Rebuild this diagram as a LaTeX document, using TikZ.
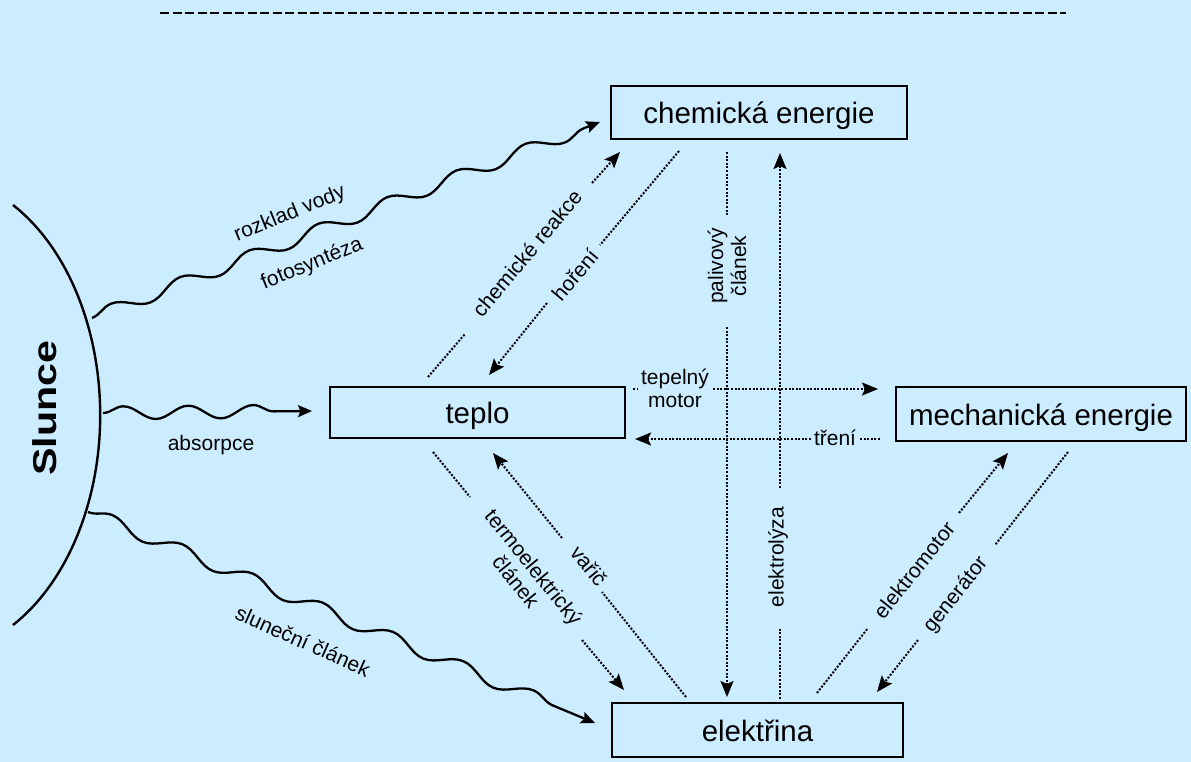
\documentclass[tikz,border=0pt]{standalone}
\usepackage{fontspec}
\setmainfont{Liberation Sans}
\usetikzlibrary{arrows.meta,decorations.pathmorphing}
\definecolor{bg}{RGB}{204,236,255}
\begin{document}
\begin{tikzpicture}[x=1pt,y=-1pt,
  box/.style={draw, line width=2.8pt, inner sep=0pt, text height=22pt, text depth=0pt,
              font=\fontsize{29.5}{34}\selectfont},
  lbl/.style={inner sep=0pt, align=center, font=\fontsize{21}{23}\selectfont},
  dots/.style={line width=2pt, dash pattern=on 2pt off 1.6pt},
  arr/.style={-{Stealth[length=16pt,width=13pt,inset=3pt]}},
  warr/.style={-{Stealth[length=14pt,width=12pt,inset=2.5pt]}},
  wave/.style={line width=2.3pt, decorate,
               decoration={snake, amplitude=6.5pt, segment length=#1, post length=14pt}}]
\useasboundingbox (0,0) rectangle (1191,762);
\fill[bg] (0,0) rectangle (1191,762);

% top dashed rule
\coordinate (topL) at (160,13);
\coordinate (topR) at (1066,13);
\draw[line width=2.8pt, dash pattern=on 9pt off 3.5pt] (topL) -- (topR);

% boxes
\node[box, minimum width=296pt, minimum height=53pt] (chem) at (759,112.5) {chemická energie};
\node[box, minimum width=295pt, minimum height=51pt] (teplo) at (477.5,412.5) {teplo};
\node[box, minimum width=290pt, minimum height=54pt] (mech) at (1041,414) {mechanická energie};
\node[box, minimum width=291pt, minimum height=54pt] (elek) at (757.5,730) {elektřina};

% Sun
\coordinate (arcT) at (13,205);
\draw[line width=2.4pt] (arcT) arc[start angle=61.04, end angle=-61.04, x radius=169pt, y radius=240pt];
\node[inner sep=0pt, rotate=90, font=\fontsize{33}{36}\selectfont\bfseries] (slunce) at (45,408)
  {\scalebox{1.25}[1]{Slunce}};

% waves
\coordinate (w1s) at (92,318);  \coordinate (w1e) at (600,122);
\coordinate (w2s) at (103,413); \coordinate (w2e) at (312,411);
\coordinate (w3s) at (88,512);  \coordinate (w3e) at (595,723);
\draw[wave=74pt, warr] (w1s) -- (w1e);
\draw[wave=65pt, warr] (w2s) -- (w2e);
\draw[wave=76pt, warr] (w3s) -- (w3e);
\node[lbl, rotate=22] (rv) at (290,214) {rozklad vody};
\node[lbl, rotate=22] (fs) at (312,264) {fotosyntéza};
\node[lbl] (ab) at (211,445) {absorpce};
\node[lbl, rotate=-24] (sc) at (303,641) {sluneční článek};

% chemické reakce (teplo -> chem)
\coordinate (cr0) at (428,377); \coordinate (cr1) at (465,334);
\coordinate (cr2) at (592,183); \coordinate (cr3) at (620,152);
\draw[dots] (cr0) -- (cr1);
\draw[dots, arr] (cr2) -- (cr3);
\node[lbl, rotate=50] (crl) at (527,253) {chemické reakce};

% hoření (chem -> teplo)
\coordinate (ho0) at (679,151); \coordinate (ho1) at (600,245);
\coordinate (ho2) at (547,303); \coordinate (ho3) at (489,375);
\draw[dots] (ho0) -- (ho1);
\draw[dots, arr] (ho2) -- (ho3);
\node[lbl, rotate=50] (hol) at (575,275) {hoření};

% palivový článek (chem -> elek)
\coordinate (pc0) at (727,152); \coordinate (pc1) at (727,216);
\coordinate (pc2) at (727,327); \coordinate (pc3) at (727,697);
\draw[dots] (pc0) -- (pc1);
\draw[dots, arr] (pc2) -- (pc3);
\node[lbl, rotate=90] (pcl) at (727,266) {palivový\\článek};

% elektrolýza (elek -> chem)
\coordinate (el0) at (780,699); \coordinate (el1) at (780,628);
\coordinate (el2) at (780,488); \coordinate (el3) at (780,153);
\draw[dots] (el0) -- (el1);
\draw[dots, arr] (el2) -- (el3);
\node[lbl, rotate=90] (ell) at (778,557) {elektrolýza};

% tepelný motor (teplo -> mech)
\coordinate (tm0) at (633,389); \coordinate (tm1) at (637,389);
\coordinate (tm2) at (713,389); \coordinate (tm3) at (878,389);
\draw[dots] (tm0) -- (tm1);
\draw[dots, arr] (tm2) -- (tm3);
\node[lbl] (tml) at (675,388) {tepelný\\motor};

% tření (mech -> teplo)
\coordinate (tr0) at (880,439); \coordinate (tr1) at (860,439);
\coordinate (tr2) at (811,439); \coordinate (tr3) at (635,439);
\draw[dots] (tr0) -- (tr1);
\draw[dots, arr] (tr2) -- (tr3);
\node[lbl] (trl) at (835,438) {tření};

% termoelektrický článek (teplo -> elek)
\coordinate (te0) at (433,452); \coordinate (te1) at (470,497);
\coordinate (te2) at (582,640); \coordinate (te3) at (624,690);
\draw[dots] (te0) -- (te1);
\draw[dots, arr] (te2) -- (te3);
\node[lbl, rotate=-51] (tel) at (525,574) {termoelektrický\\článek};

% vařič (elek -> teplo)
\coordinate (va0) at (686,697); \coordinate (va1) at (602,592);
\coordinate (va2) at (562,538); \coordinate (va3) at (493,453);
\draw[dots] (va0) -- (va1);
\draw[dots, arr] (va2) -- (va3);
\node[lbl, rotate=-51] (val) at (589,566) {vařič};

% elektromotor (elek -> mech)
\coordinate (em0) at (817,693); \coordinate (em1) at (868,628);
\coordinate (em2) at (959,513); \coordinate (em3) at (1008,453);
\draw[dots] (em0) -- (em1);
\draw[dots, arr] (em2) -- (em3);
\node[lbl, rotate=51.5] (eml) at (914,570) {elektromotor};

% generátor (mech -> elek)
\coordinate (ge0) at (1068,452); \coordinate (ge1) at (995,545);
\coordinate (ge2) at (918,640); \coordinate (ge3) at (877,692);
\draw[dots] (ge0) -- (ge1);
\draw[dots, arr] (ge2) -- (ge3);
\node[lbl, rotate=51.5] (gel) at (956,595) {generátor};
\end{tikzpicture}
\end{document}
